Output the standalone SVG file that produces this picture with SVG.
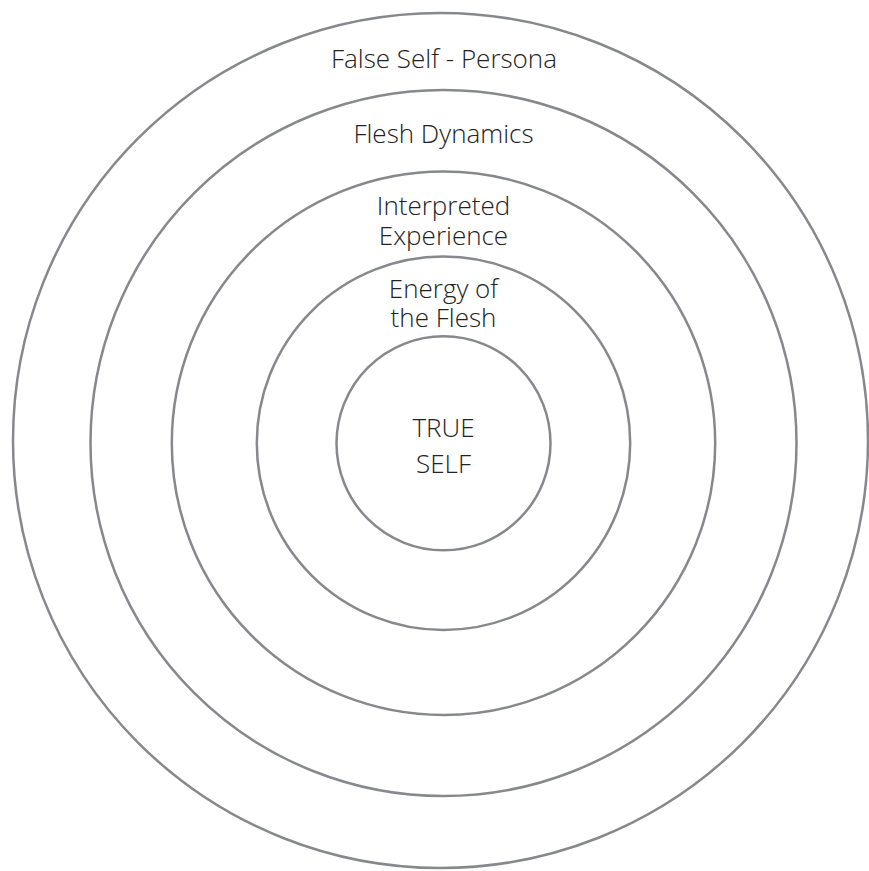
<svg xmlns="http://www.w3.org/2000/svg" width="869" height="871" viewBox="0 0 869 871">
<style>
.ring{fill:none;stroke:#86888c;stroke-width:2.5}
.lbl{font-family:"Open Sans","Noto Sans",sans-serif;font-weight:300;font-size:26px;fill:#222222;text-anchor:middle}
</style>
<rect width="869" height="871" fill="#ffffff"/>
<g id="false-self">
<circle class="ring" cx="440.5" cy="440.5" r="427.5"/>
<text class="lbl" x="444" y="68">False Self - Persona</text>
</g>
<g id="flesh-dynamics">
<circle class="ring" cx="443.5" cy="443" r="353"/>
<text class="lbl" x="443.5" y="143">Flesh Dynamics</text>
</g>
<g id="interpreted-experience">
<circle class="ring" cx="443.5" cy="443.3" r="271.7"/>
<text class="lbl" x="443.5" y="215">Interpreted<tspan x="443.5" dy="30">Experience</tspan></text>
</g>
<g id="energy-of-the-flesh">
<circle class="ring" cx="443.5" cy="443.3" r="186.7"/>
<text class="lbl" x="443.5" y="298">Energy of<tspan x="443.5" dy="29">the Flesh</tspan></text>
</g>
<g id="true-self">
<circle class="ring" cx="443.5" cy="443.3" r="107"/>
<text class="lbl" x="443.5" y="437">TRUE<tspan x="443.5" dy="36">SELF</tspan></text>
</g>
<g id="connectors"></g>
</svg>
